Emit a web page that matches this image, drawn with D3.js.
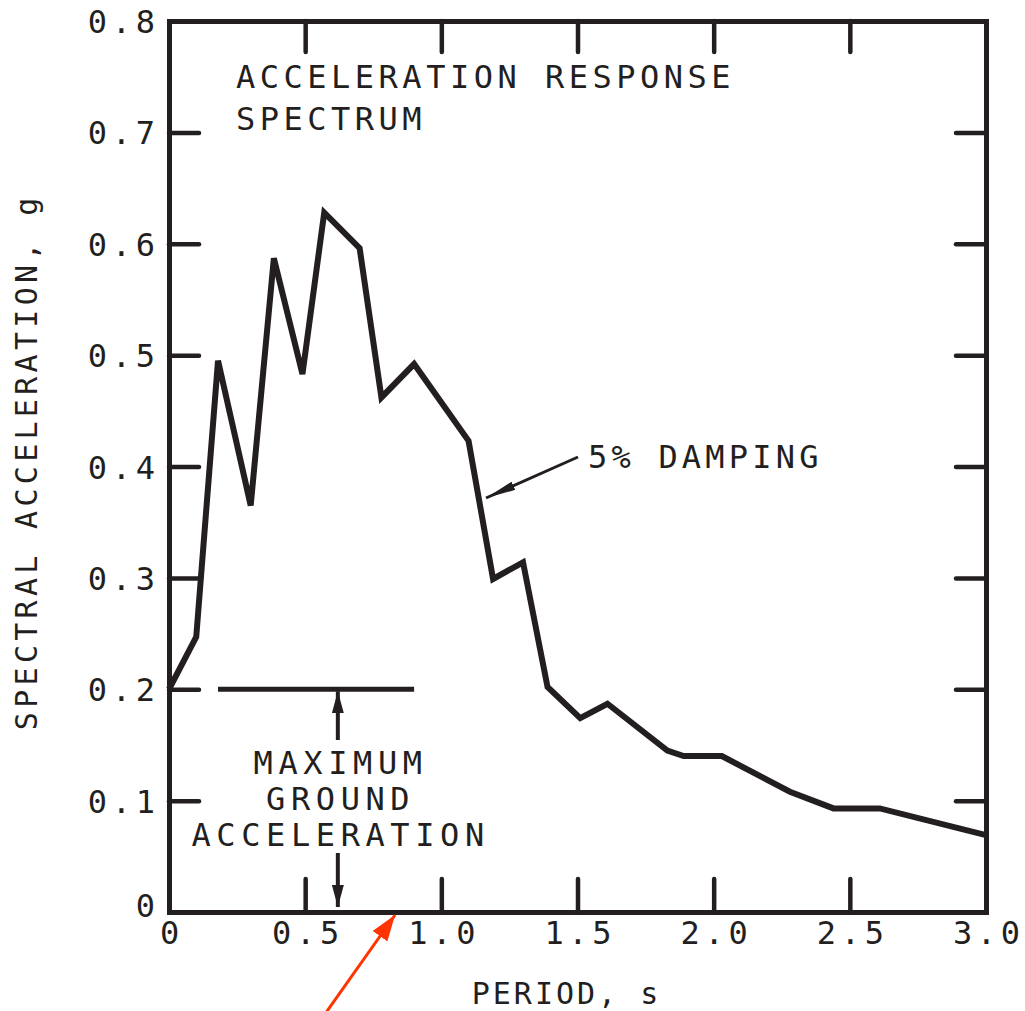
<!DOCTYPE html>
<html>
<head>
<meta charset="utf-8">
<script src="https://cdn.jsdelivr.net/npm/d3@7"></script>
<style>
  body { margin:0; background:#fff; }
  svg text { font-family:"DejaVu Sans Mono", monospace; fill:#231f20; }
</style>
</head>
<body>
<svg id="chart" width="1025" height="1011"></svg>
<script>
// datos
var periodo = [0, 0.10, 0.18, 0.30, 0.385, 0.49, 0.57, 0.70, 0.78, 0.90, 1.10, 1.19, 1.30, 1.39, 1.51, 1.61, 1.83, 1.89, 2.03, 2.28, 2.44, 2.61, 3.00];
var acel    = [0.200, 0.247, 0.495, 0.365, 0.587, 0.483, 0.628, 0.596, 0.462, 0.492, 0.423, 0.299, 0.314, 0.202, 0.174, 0.187, 0.145, 0.140, 0.140, 0.108, 0.093, 0.093, 0.069];
var xTicks = [0, 0.5, 1.0, 1.5, 2.0, 2.5, 3.0];
var xTickLabels = ["0", "0.5", "1.0", "1.5", "2.0", "2.5", "3.0"];
var yTicks = [0, 0.1, 0.2, 0.3, 0.4, 0.5, 0.6, 0.7, 0.8];
var yTickLabels = ["0", "0.1", "0.2", "0.3", "0.4", "0.5", "0.6", "0.7", "0.8"];
var pga = 0.2;               // maximum ground acceleration
var pgaRango = [0.18, 0.90]; // extension de la linea horizontal
var pgaFlechaX = 0.62;

var negro = "#231f20";
var x = d3.scaleLinear().domain([0, 3]).range([169, 986]);
var y = d3.scaleLinear().domain([0, 0.8]).range([912, 21]);

var svg = d3.select("#chart");
var defs = svg.append("defs");
function punta(id, color, w, l){
  defs.append("marker").attr("id", id)
    .attr("viewBox", "0 0 " + l + " " + w).attr("refX", l).attr("refY", w/2)
    .attr("markerUnits", "userSpaceOnUse").attr("markerWidth", l).attr("markerHeight", w)
    .attr("orient", "auto")
    .append("path").attr("d", "M0,0L" + l + "," + (w/2) + "L0," + w + "Z").attr("fill", color);
}
punta("flecha", negro, 12, 22);
punta("flechaFina", negro, 9, 30);
punta("flechaRoja", "#ff3300", 18, 26);

// ticks interiores en los cuatro lados
var inner = [
  d3.axisLeft(y).tickValues(yTicks.slice(1, -1)).tickSize(-30).tickSizeOuter(0).tickFormat(""),
  d3.axisRight(y).tickValues(yTicks.slice(1, -1)).tickSize(-30).tickSizeOuter(0).tickFormat(""),
  d3.axisBottom(x).tickValues(xTicks.slice(1, -1)).tickSize(-33).tickSizeOuter(0).tickFormat(""),
  d3.axisTop(x).tickValues(xTicks.slice(1, -1)).tickSize(-31).tickSizeOuter(0).tickFormat("")
];
var pos = ["translate(169,0)", "translate(986,0)", "translate(0,912)", "translate(0,21)"];
inner.forEach(function(ax, i){
  var g = svg.append("g").attr("transform", pos[i]).call(ax);
  g.select(".domain").attr("stroke", negro).attr("stroke-width", 5).attr("stroke-linecap", "square");
  g.selectAll(".tick line").attr("stroke", negro).attr("stroke-width", 4.5).attr("stroke-linecap", "round");
});

// etiquetas de los ticks
var ls = 4.7;
var gy = svg.append("g").attr("transform", "translate(169,0)")
  .call(d3.axisLeft(y).tickValues(yTicks).tickSize(0).tickPadding(14).tickFormat(function(d, i){ return yTickLabels[i]; }));
gy.select(".domain").remove();
gy.selectAll("text").attr("font-size", 32).attr("font-family", "DejaVu Sans Mono").attr("fill", negro)
  .attr("letter-spacing", ls).attr("dx", ls).attr("dy", function(d){ return d === 0 ? "0.15em" : "0.36em"; });

var gx = svg.append("g").attr("transform", "translate(0,912)")
  .call(d3.axisBottom(x).tickValues(xTicks).tickSize(0).tickPadding(9).tickFormat(function(d, i){ return xTickLabels[i]; }));
gx.select(".domain").remove();
gx.selectAll("text").attr("font-size", 32).attr("font-family", "DejaVu Sans Mono").attr("fill", negro)
  .attr("letter-spacing", ls).attr("dx", ls / 2).attr("dy", "0.72em");

// curva del espectro
var linea = d3.line().x(function(d){ return x(d[0]); }).y(function(d){ return y(d[1]); });
svg.append("path").datum(d3.zip(periodo, acel))
  .attr("d", linea).attr("fill", "none").attr("stroke", negro)
  .attr("stroke-width", 6).attr("stroke-linejoin", "miter");

// aceleracion maxima del terreno
svg.append("line").attr("x1", x(pgaRango[0])).attr("x2", x(pgaRango[1]))
  .attr("y1", y(pga)).attr("y2", y(pga)).attr("stroke", negro).attr("stroke-width", 5);
svg.append("line").attr("x1", x(pgaFlechaX)).attr("x2", x(pgaFlechaX))
  .attr("y1", 740).attr("y2", y(pga) + 2).attr("stroke", negro).attr("stroke-width", 4)
  .attr("marker-end", "url(#flecha)");
svg.append("line").attr("x1", x(pgaFlechaX)).attr("x2", x(pgaFlechaX))
  .attr("y1", 853).attr("y2", y(0) - 5).attr("stroke", negro).attr("stroke-width", 4)
  .attr("marker-end", "url(#flecha)");

function texto(t, px, py, size, sp, anchor, rot){
  var dx = anchor === "middle" ? sp / 2 : 0;
  var el = svg.append("text").attr("x", px + dx).attr("y", py)
    .attr("font-size", size).attr("letter-spacing", sp).attr("text-anchor", anchor || "start").text(t);
  if (rot) el.attr("transform", "rotate(" + rot + "," + px + "," + py + ")");
  return el;
}
texto("MAXIMUM", x(pgaFlechaX), 774, 32, 5.6, "middle");
texto("GROUND", x(pgaFlechaX), 810, 32, 5.6, "middle");
texto("ACCELERATION", x(pgaFlechaX), 846, 32, 5.6, "middle");

texto("ACCELERATION RESPONSE", 236, 88, 32, 4.5, "start");
texto("SPECTRUM", 236, 130, 32, 4.5, "start");

texto("5% DAMPING", 588, 468, 32, 4.2, "start");
svg.append("line").attr("x1", 578).attr("y1", 457).attr("x2", 486).attr("y2", 498)
  .attr("stroke", negro).attr("stroke-width", 3).attr("marker-end", "url(#flechaFina)");

texto("SPECTRAL ACCELERATION, g", 37, 464, 30, 4.3, "middle", -90);
texto("PERIOD, s", 565, 1004, 30, 3, "middle");

// flecha roja
svg.append("line").attr("x1", 325).attr("y1", 1014).attr("x2", x(0.83)).attr("y2", y(0) + 3)
  .attr("stroke", "#ff3300").attr("stroke-width", 3).attr("marker-end", "url(#flechaRoja)");
</script>
</body>
</html>
